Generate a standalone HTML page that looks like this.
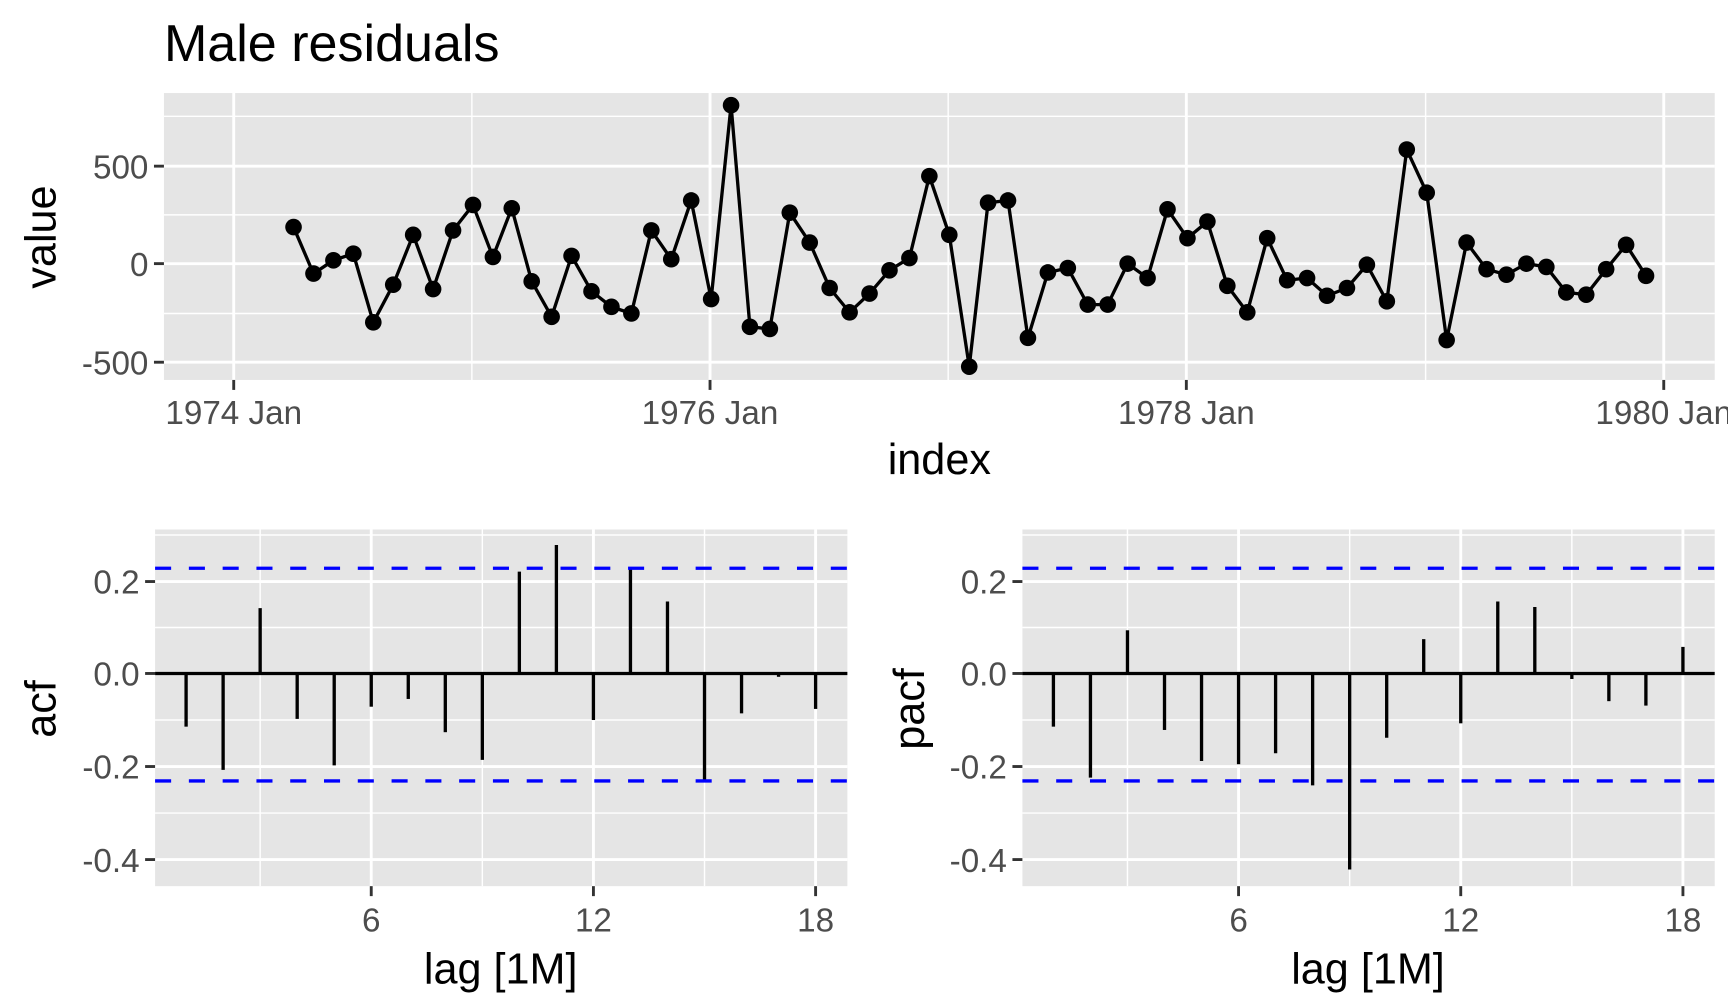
<!DOCTYPE html>
<html><head><meta charset="utf-8"><style>
html,body{margin:0;padding:0;background:#fff;}
svg{display:block;}
text{font-family:"Liberation Sans",Arial,sans-serif;}
</style></head><body>
<svg width="1728" height="1008" viewBox="0 0 1560 910" preserveAspectRatio="none" xmlns="http://www.w3.org/2000/svg">
<rect width="1560" height="910" fill="#fff"/>
<text x="148" y="55" font-size="47" fill="#000">Male residuals</text>
<rect x="148" y="84" width="1400" height="259" fill="#e5e5e5"/>
<g stroke="#fff" stroke-width="1.3">
<line x1="148" x2="1548" y1="105" y2="105"/><line x1="148" x2="1548" y1="194" y2="194"/><line x1="148" x2="1548" y1="283" y2="283"/>
<line x1="426" x2="426" y1="84" y2="343"/><line x1="856" x2="856" y1="84" y2="343"/><line x1="1287" x2="1287" y1="84" y2="343"/>
</g>
<g stroke="#fff" stroke-width="2.6">
<line x1="148" x2="1548" y1="150" y2="150"/><line x1="148" x2="1548" y1="238" y2="238"/><line x1="148" x2="1548" y1="327" y2="327"/>
<line x1="211" x2="211" y1="84" y2="343"/><line x1="641" x2="641" y1="84" y2="343"/><line x1="1071" x2="1071" y1="84" y2="343"/><line x1="1502" x2="1502" y1="84" y2="343"/>
</g>
<g stroke="#333" stroke-width="2.6">
<line x1="139" x2="148" y1="150" y2="150"/><line x1="139" x2="148" y1="238" y2="238"/><line x1="139" x2="148" y1="327" y2="327"/>
<line x1="211" x2="211" y1="343" y2="352"/><line x1="641" x2="641" y1="343" y2="352"/><line x1="1071" x2="1071" y1="343" y2="352"/><line x1="1502" x2="1502" y1="343" y2="352"/>
</g>
<g font-size="30" fill="#4d4d4d" text-anchor="end">
<text x="134" y="161">500</text><text x="134" y="249">0</text><text x="134" y="338">-500</text>
</g>
<g font-size="30" fill="#4d4d4d" text-anchor="middle">
<text x="211" y="383">1974 Jan</text><text x="641" y="383">1976 Jan</text><text x="1071" y="383">1978 Jan</text><text x="1502" y="383">1980 Jan</text>
</g>
<text x="848" y="428" font-size="39" text-anchor="middle">index</text>
<text transform="translate(50,214) rotate(-90)" font-size="39" text-anchor="middle">value</text>
<polyline fill="none" stroke="#000" stroke-width="3" points="265,205 283,247 301,235 319,229 337,291 355,257 373,212 391,261 409,208 427,185 445,232 462,188 480,254 498,286 516,231 534,263 552,277 570,283 588,208 606,234 624,181 642,270 660,95 677,295 695,297 713,192 731,219 749,260 767,282 785,265 803,244 821,233 839,159 857,212 875,331 892,183 910,181 928,305 946,246 964,242 982,275 1000,275 1018,238 1036,251 1054,189 1072,215 1090,200 1108,258 1126,282 1144,215 1162,253 1180,251 1198,267 1216,260 1234,239 1252,272 1270,135 1288,174 1306,307 1324,219 1342,243 1360,248 1378,238 1396,241 1414,264 1432,266 1450,243 1468,221 1486,249"/>
<g fill="#000" id="pts"></g>
<g id="acf"></g>
<g id="pacf"></g>
<text x="452" y="888" font-size="39" text-anchor="middle">lag [1M]</text>
<text x="1235" y="888" font-size="39" text-anchor="middle">lag [1M]</text>
<text transform="translate(50,640) rotate(-90)" font-size="39" text-anchor="middle">acf</text>
<text transform="translate(834,640) rotate(-90)" font-size="39" text-anchor="middle">pacf</text>
</svg>
<script>
var NS="http://www.w3.org/2000/svg";
function el(p,t,a){var e=document.createElementNS(NS,t);for(var k in a)e.setAttribute(k,a[k]);p.appendChild(e);return e;}
var pts=document.querySelector('polyline').getAttribute('points').trim().split(/\s+/);
var g=document.getElementById('pts');
pts.forEach(function(s){var c=s.split(',');el(g,'circle',{cx:c[0],cy:c[1],r:7.5});});
function panel(id,x0,vals){
 var G=document.getElementById(id), x1=x0+625;
 el(G,'rect',{x:x0,y:478,width:625,height:322,fill:'#e5e5e5'});
 var lx=function(l){return x0+28+(l-1)*33.43;};
 [483,566.5,650,734].forEach(function(y){el(G,'line',{x1:x0,x2:x1,y1:y,y2:y,stroke:'#fff','stroke-width':1.3});});
 [3,9,15].forEach(function(l){el(G,'line',{x1:lx(l),x2:lx(l),y1:478,y2:800,stroke:'#fff','stroke-width':1.3});});
 [525,608,692,776].forEach(function(y){el(G,'line',{x1:x0,x2:x1,y1:y,y2:y,stroke:'#fff','stroke-width':2.6});el(G,'line',{x1:x0-9,x2:x0,y1:y,y2:y,stroke:'#333','stroke-width':2.6});});
 [6,12,18].forEach(function(l){el(G,'line',{x1:lx(l),x2:lx(l),y1:478,y2:800,stroke:'#fff','stroke-width':2.6});el(G,'line',{x1:lx(l),x2:lx(l),y1:800,y2:809,stroke:'#333','stroke-width':2.6});
  var t=el(G,'text',{x:lx(l),y:841,'font-size':30,fill:'#4d4d4d','text-anchor':'middle'});t.textContent=l;});
 [['0.2',525],['0.0',608],['-0.2',692],['-0.4',776]].forEach(function(a){var t=el(G,'text',{x:x0-14,y:a[1]+11,'font-size':30,fill:'#4d4d4d','text-anchor':'end'});t.textContent=a[0];});
 el(G,'line',{x1:x0,x2:x1,y1:608,y2:608,stroke:'#000','stroke-width':3});
 vals.forEach(function(y,i){el(G,'line',{x1:lx(i+1),x2:lx(i+1),y1:608,y2:y,stroke:'#000','stroke-width':3});});
 [513,705].forEach(function(y){el(G,'line',{x1:x0,x2:x1,y1:y,y2:y,stroke:'#0000ff','stroke-width':3,'stroke-dasharray':'14.5,16'});});
}
panel('acf',140,[656,695,549,649,691,638,631,661,686,516,492,650,514,543,706,644,611,640]);
panel('pacf',923,[656,702,569,659,687,690,680,709,785,666,577,653,543,548,613,633,637,584]);
</script>
</body></html>
